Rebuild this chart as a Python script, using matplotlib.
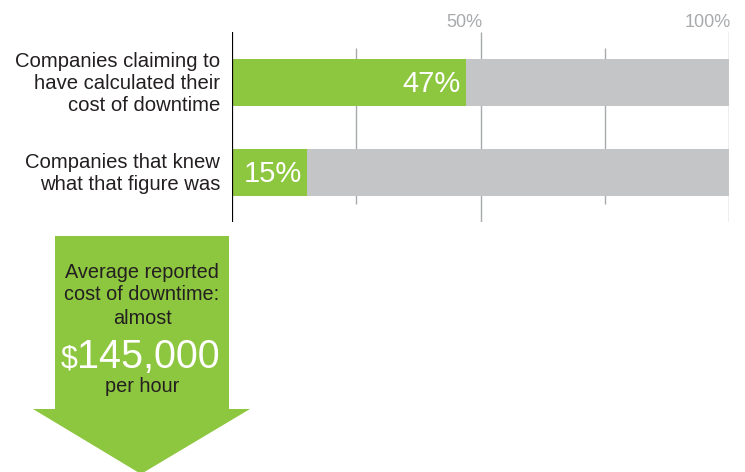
import matplotlib
matplotlib.use("Agg")
import matplotlib.pyplot as plt
from matplotlib.patches import Polygon

plt.rcParams['font.family'] = ['Liberation Sans', 'DejaVu Sans']

# data
categories = ["Companies claiming to\nhave calculated their\ncost of downtime",
              "Companies that knew\nwhat that figure was"]
values = [47, 15]
total = [100, 100]
tick_vals = [50, 100]
tick_labels = ["50%", "100%"]
minor_grid = [25, 75]
arrow_lines = ["Average reported", "cost of downtime:", "almost"]
big_number = "145,000"
per_text = "per hour"

GREEN = "#8DC63F"
GRAY = "#C4C5C7"
TEXT = "#231F20"

W, H = 745, 472
fig = plt.figure(figsize=(W / 100, H / 100), dpi=100)

# ---- bar chart ----
ax = fig.add_axes([232 / W, (H - 222) / H, 497 / W, 190 / H])
ypos = list(range(len(categories)))
ax.barh(ypos, total, height=0.52, color=GRAY, zorder=1)
ax.barh(ypos, values, height=0.52, color=GREEN, zorder=2)
ax.set_xlim(0, 100)
ax.set_ylim(1.55, -0.561)

# gridlines: majors full height, minors shorter
ax.vlines(tick_vals, 1.55, -0.561, color="#A7A9AC", lw=1, zorder=0)
ax.vlines(minor_grid, 1.35, -0.383, color="#A7A9AC", lw=1, zorder=0)
ax.axvline(0, color="black", lw=1.6, zorder=3)

for t, lab in zip(tick_vals, tick_labels):
    ax.text(t + 0.4, -0.575, lab, ha="right", va="bottom", fontsize=13,
            color="#A7A9AC")

for y, v in zip(ypos, values):
    ax.text(v - 0.9, y + 0.02, f"{v}%", ha="right", va="center", fontsize=21,
            color="white", zorder=4)

for y, c in zip(ypos, categories):
    ax.text(-2.4, y + 0.01, c, ha="right", va="center", fontsize=14.6, color=TEXT,
            linespacing=1.2)

ax.axis("off")

# ---- arrow call-out ----
ax2 = fig.add_axes([0, 0, 1, 1])
ax2.set_xlim(0, W)
ax2.set_ylim(H, 0)
ax2.axis("off")
arrow = Polygon([(55, 236), (229, 236), (229, 409), (250, 409), (141, 474),
                 (33, 409), (55, 409)], closed=True, color=GREEN, lw=0)
ax2.add_patch(arrow)

for i, line in enumerate(arrow_lines):
    ax2.text(142, 272 + i * 23, line, ha="center", va="center", fontsize=14.3,
             color=TEXT)
ax2.text(78, 368, r"\$", ha="right", va="baseline", fontsize=22, color="white")
ax2.text(77, 368, big_number, ha="left", va="baseline", fontsize=28.5,
         color="white")
ax2.text(142, 392, per_text, ha="center", va="baseline", fontsize=14.3, color=TEXT)

fig.savefig("out.png", dpi=100)
